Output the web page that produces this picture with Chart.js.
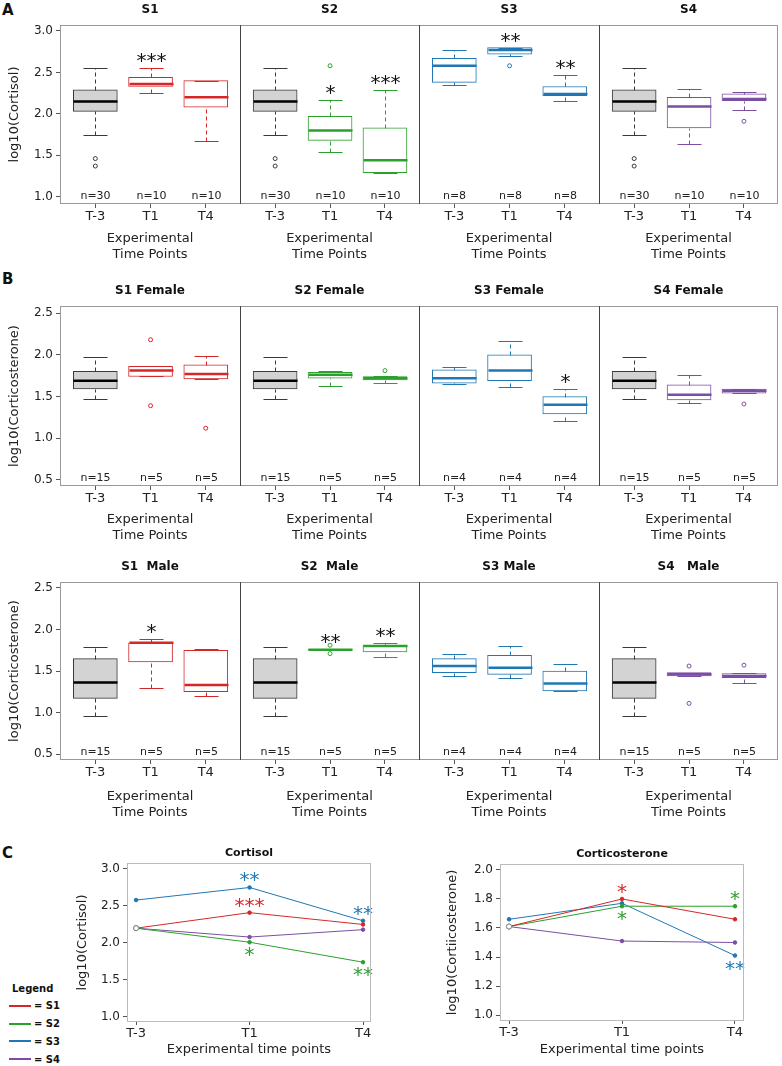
<!DOCTYPE html>
<html>
<head>
<meta charset="utf-8">
<title>Cortisol and corticosterone by time point</title>
<script src="https://cdn.jsdelivr.net/npm/chart.js@4.4.1/dist/chart.umd.min.js"></script>
<style>
  html, body { margin: 0; padding: 0; background: #fff; }
  body { position: relative; width: 782px; height: 1066px; overflow: hidden; font-family: "DejaVu Sans", sans-serif; color: #111; }
  canvas { position: absolute; }
  .tag { position: absolute; font-weight: bold; font-size: 15px; line-height: 15px; }
  #legend { position: absolute; left: 0; top: 0; font-size: 10px; font-weight: bold; }
</style>
</head>
<body>
<div class="tag" style="left:2px;top:3px">A</div>
<div class="tag" style="left:2px;top:272px">B</div>
<div class="tag" style="left:2px;top:846px">C</div>
<div id="legend"></div>
<script>
const timePoints = ['T-3', 'T1', 'T4'];
const groups = ['S1', 'S2', 'S3', 'S4'];
const groupColors = ['#d62728', '#2ca02c', '#1f77b4', '#7b4ea3'];

// box stats per time point: [low whisker, Q1, median, Q3, high whisker]
// A - cortisol
const cortisolControl = [1.75, 2.03, 2.15, 2.29, 2.55];
const cortisolControlOut = [1.46, 1.37];
const cortisolS1 = [cortisolControl, [2.25, 2.33, 2.36, 2.44, 2.55], [1.67, 2.08, 2.20, 2.40, 2.40]];
const cortisolS2 = [cortisolControl, [1.54, 1.68, 1.80, 1.97, 2.17], [1.29, 1.29, 1.44, 1.83, 2.29]];
const cortisolS3 = [[2.35, 2.38, 2.58, 2.67, 2.77], [2.70, 2.72, 2.77, 2.80, 2.80], [2.16, 2.22, 2.24, 2.33, 2.47]];
const cortisolS4 = [cortisolControl, [1.64, 1.83, 2.09, 2.20, 2.30], [2.05, 2.16, 2.18, 2.24, 2.26]];
const cortisolOut = [[cortisolControlOut, [], []], [cortisolControlOut, [2.58], []], [[], [2.58], []], [cortisolControlOut, [], [1.91]]];
const cortisolN = [[30, 10, 10], [30, 10, 10], [8, 8, 8], [30, 10, 10]];
const cortisolStars = [['', '***', ''], ['', '*', '***'], ['', '**', '**'], ['', '', '']];

// B - corticosterone, females
const femaleControl = [1.47, 1.59, 1.69, 1.80, 1.97];
const femaleS1 = [femaleControl, [1.74, 1.74, 1.81, 1.86, 1.86], [1.71, 1.71, 1.77, 1.88, 1.99]];
const femaleS2 = [femaleControl, [1.62, 1.72, 1.76, 1.79, 1.80], [1.66, 1.70, 1.72, 1.74, 1.74]];
const femaleS3 = [[1.65, 1.66, 1.72, 1.82, 1.85], [1.61, 1.69, 1.81, 2.00, 2.16], [1.21, 1.29, 1.40, 1.50, 1.59]];
const femaleS4 = [femaleControl, [1.42, 1.46, 1.52, 1.64, 1.76], [1.54, 1.54, 1.57, 1.59, 1.59]];
const femaleOut = [[[], [2.18, 1.39], [1.12]], [[], [], [1.81]], [[], [], []], [[], [], [1.41]]];
const femaleN = [[15, 5, 5], [15, 5, 5], [4, 4, 4], [15, 5, 5]];
const femaleStars = [['', '', ''], ['', '', ''], ['', '', '*'], ['', '', '']];

// B - corticosterone, males
const maleControl = [0.96, 1.17, 1.36, 1.65, 1.79];
const maleS1 = [maleControl, [1.29, 1.61, 1.84, 1.84, 1.89], [1.20, 1.25, 1.33, 1.75, 1.76]];
const maleS2 = [maleControl, [1.75, 1.75, 1.755, 1.76, 1.76], [1.67, 1.73, 1.80, 1.81, 1.84]];
const maleS3 = [[1.44, 1.48, 1.56, 1.65, 1.70], [1.42, 1.46, 1.54, 1.69, 1.80], [1.26, 1.26, 1.35, 1.50, 1.58]];
const maleS4 = [maleControl, [1.44, 1.44, 1.46, 1.48, 1.48], [1.36, 1.42, 1.44, 1.47, 1.47]];
const maleOut = [[[], [], []], [[], [1.81, 1.71], []], [[], [], []], [[], [1.56, 1.11], [1.57]]];
const maleN = [[15, 5, 5], [15, 5, 5], [4, 4, 4], [15, 5, 5]];
const maleStars = [['', '*', ''], ['', '**', '**'], ['', '', ''], ['', '', '']];

// C - trend lines (S1..S4 over T-3, T1, T4)
const cortisolTrend = [[2.20, 2.41, 2.25], [2.20, 2.01, 1.74], [2.58, 2.75, 2.30], [2.20, 2.08, 2.18]];
const cortisolTrendStars = [['', '***', ''], ['', '*', '**'], ['', '**', '**'], ['', '', '']];
const corticoTrend = [[1.61, 1.80, 1.66], [1.61, 1.75, 1.75], [1.66, 1.77, 1.41], [1.61, 1.51, 1.50]];
const corticoTrendStars = [['', '*', ''], ['', '*', '*'], ['', '', '**'], ['', '', '']];

Chart.defaults.font.family = '"DejaVu Sans", sans-serif';
Chart.defaults.color = '#222';
Chart.defaults.animation = false;
Chart.defaults.events = [];

const subLeft = [0, 240, 419, 599];
const subWidth = [240, 179, 180, 180];

function addCanvas(left, top, w, h) {
  const c = document.createElement('canvas');
  c.width = w; c.height = h;
  c.style.left = left + 'px'; c.style.top = top + 'px';
  c.style.width = w + 'px'; c.style.height = h + 'px';
  document.body.appendChild(c);
  return c;
}

function hline(ctx, x1, x2, y) { ctx.beginPath(); ctx.moveTo(x1, y); ctx.lineTo(x2, y); ctx.stroke(); }
function vline(ctx, x, y1, y2) { ctx.beginPath(); ctx.moveTo(x, y1); ctx.lineTo(x, y2); ctx.stroke(); }

// asterisks centred on (x, y)
function stars(ctx, text, x, y, color) {
  ctx.fillStyle = color;
  ctx.font = '20px "DejaVu Sans"';
  ctx.textAlign = 'center';
  ctx.textBaseline = 'alphabetic';
  ctx.fillText(text, x, y + 9);
}

function boxPanel(p) {
  const first = p.col === 0, last = p.col === 3;
  const canvas = addCanvas(subLeft[p.col], p.top, subWidth[p.col], p.height);
  const isCtrl = p.stats.map(s => s === p.control);
  const edge = isCtrl.map(c => c ? '#3a3a3a' : p.color);
  const outPts = [], outCol = [];
  p.outliers.forEach((list, i) => list.forEach(v => { outPts.push({x: i, y: v}); outCol.push(edge[i]); }));

  const decor = {
    id: 'boxDecor',
    afterDatasetsDraw(chart) {
      const {ctx, chartArea: a, scales: {x, y}} = chart;
      const py = v => Math.round(y.getPixelForValue(v)) + 0.5;
      ctx.save();
      p.stats.forEach((s, i) => {
        const cx = Math.round(x.getPixelForValue(i)) + 0.5;
        ctx.strokeStyle = edge[i];
        ctx.lineWidth = 1;
        ctx.setLineDash([4, 3]);
        vline(ctx, cx, py(s[0]), py(s[1]));
        vline(ctx, cx, py(s[3]), py(s[4]));
        ctx.setLineDash([]);
        hline(ctx, cx - 12, cx + 12, py(s[0]));
        hline(ctx, cx - 12, cx + 12, py(s[4]));
        ctx.strokeStyle = isCtrl[i] ? '#000' : p.color;
        ctx.lineWidth = 2.5;
        hline(ctx, cx - 22, cx + 22, y.getPixelForValue(s[2]));

        ctx.fillStyle = '#222';
        ctx.font = '11px "DejaVu Sans"';
        ctx.textAlign = 'center';
        ctx.textBaseline = 'middle';
        ctx.fillText('n=' + p.counts[i], cx, a.bottom - 8);
        if (p.stars[i]) stars(ctx, p.stars[i], cx, y.getPixelForValue(s[4]) - 10, '#111');
      });
      // frame: light outside, darker between panels
      ctx.lineWidth = 1;
      ctx.strokeStyle = '#999';
      hline(ctx, a.left, a.right, a.top + 0.5);
      hline(ctx, a.left, a.right, a.bottom - 0.5);
      if (last) vline(ctx, a.right - 0.5, a.top, a.bottom);
      ctx.strokeStyle = first ? '#999' : '#444';
      vline(ctx, a.left + 0.5, a.top, a.bottom);

      ctx.fillStyle = '#111';
      ctx.font = 'bold 12px "DejaVu Sans"';
      ctx.textAlign = 'center';
      ctx.textBaseline = 'middle';
      ctx.fillText(p.title, (a.left + a.right) / 2, a.top - 15);
      ctx.restore();
    }
  };

  new Chart(canvas, {
    type: 'bar',
    data: {
      datasets: [
        {
          data: p.stats.map((s, i) => ({x: i, y: [s[1], s[3]]})),
          backgroundColor: isCtrl.map(c => c ? '#d3d3d3' : '#fff'),
          borderColor: edge,
          borderWidth: 1,
          borderSkipped: false,
          barThickness: 44
        },
        {
          type: 'scatter',
          data: outPts,
          pointRadius: 2,
          pointBorderWidth: 1,
          pointBorderColor: outCol,
          pointBackgroundColor: '#fff'
        }
      ]
    },
    options: {
      responsive: false,
      layout: { autoPadding: false, padding: { top: 25, right: last ? 1 : 0, left: 0, bottom: 0 } },
      plugins: { legend: { display: false }, tooltip: { enabled: false } },
      scales: {
        x: {
          type: 'linear', min: -0.64, max: 2.62, offset: false,
          afterBuildTicks: s => { s.ticks = timePoints.map((t, i) => ({value: i})); },
          ticks: { callback: v => timePoints[v], font: {size: 13}, padding: 1, maxRotation: 0, autoSkip: false },
          grid: { offset: false, drawOnChartArea: false, tickLength: 4, color: '#555' },
          border: { display: false },
          title: { display: true, text: ['Experimental', 'Time Points'], font: {size: 13}, padding: 0, color: '#222' },
          afterFit: s => { s.height = p.axisH; s.paddingLeft = 0; s.paddingRight = 0; }
        },
        y: {
          min: p.yMin, max: p.yMax, display: first,
          afterBuildTicks: s => { s.ticks = p.yTicks.map(v => ({value: v})); },
          ticks: { callback: v => v.toFixed(1), font: {size: 12}, padding: 3 },
          grid: { drawOnChartArea: false, tickLength: 4, color: '#555' },
          border: { display: false },
          title: { display: true, text: p.yTitle, font: {size: 13}, padding: {top: 7, bottom: 0}, color: '#222' },
          afterFit: s => { if (first) s.width = 60; }
        }
      }
    },
    plugins: [decor]
  });
}

function boxRow(row) {
  groups.forEach((g, k) => boxPanel({
    col: k, top: row.top, height: row.height, axisH: row.axisH,
    yMin: row.yMin, yMax: row.yMax, yTicks: row.yTicks, yTitle: row.yTitle,
    title: row.titles[k], stats: row.stats[k], outliers: row.outliers[k],
    counts: row.counts[k], stars: row.stars[k], control: row.control, color: groupColors[k]
  }));
}

boxRow({
  top: 0, height: 262, axisH: 58, yMin: 0.912, yMax: 3.072, yTicks: [1, 1.5, 2, 2.5, 3],
  yTitle: 'log10(Cortisol)', titles: ['S1', 'S2', 'S3', 'S4'],
  stats: [cortisolS1, cortisolS2, cortisolS3, cortisolS4], outliers: cortisolOut,
  counts: cortisolN, stars: cortisolStars, control: cortisolControl
});
boxRow({
  top: 281, height: 262, axisH: 57, yMin: 0.428, yMax: 2.584, yTicks: [0.5, 1, 1.5, 2, 2.5],
  yTitle: 'log10(Corticosterone)', titles: ['S1 Female', 'S2 Female', 'S3 Female', 'S4 Female'],
  stats: [femaleS1, femaleS2, femaleS3, femaleS4], outliers: femaleOut,
  counts: femaleN, stars: femaleStars, control: femaleControl
});
boxRow({
  top: 557, height: 263, axisH: 60, yMin: 0.428, yMax: 2.572, yTicks: [0.5, 1, 1.5, 2, 2.5],
  yTitle: 'log10(Corticosterone)', titles: ['S1  Male', 'S2  Male', 'S3 Male', 'S4   Male'],
  stats: [maleS1, maleS2, maleS3, maleS4], outliers: maleOut,
  counts: maleN, stars: maleStars, control: maleControl
});

function trendChart(t) {
  const canvas = addCanvas(t.left, t.top, t.width, t.height);
  const shared = k => t.values[k][0] === t.values[0][0];
  const datasets = groups.map((g, k) => ({
    label: g,
    data: t.values[k].map((v, i) => ({x: i, y: v})),
    borderColor: groupColors[k],
    backgroundColor: groupColors[k],
    borderWidth: 1,
    tension: 0,
    pointRadius: c => (c.dataIndex === 0 && shared(k)) ? 2.5 : 1.8,
    pointBorderWidth: 1,
    pointBackgroundColor: c => (c.dataIndex === 0 && shared(k)) ? '#fff' : groupColors[k],
    pointBorderColor: c => (c.dataIndex === 0 && shared(k)) ? '#888' : groupColors[k]
  }));

  const decor = {
    id: 'trendDecor',
    afterDatasetsDraw(chart) {
      const {ctx, chartArea: a, scales: {x, y}} = chart;
      ctx.save();
      t.stars.forEach((row, k) => row.forEach((s, i) => {
        if (!s) return;
        const dy = t.below[k][i] ? 10 : -10;
        stars(ctx, s, x.getPixelForValue(i), y.getPixelForValue(t.values[k][i]) + dy, groupColors[k]);
      }));
      ctx.lineWidth = 1;
      ctx.strokeStyle = '#bbb';
      ctx.strokeRect(a.left + 0.5, a.top + 0.5, a.right - a.left - 1, a.bottom - a.top - 1);
      ctx.fillStyle = '#111';
      ctx.font = 'bold 11px "DejaVu Sans"';
      ctx.textAlign = 'center';
      ctx.textBaseline = 'middle';
      ctx.fillText(t.title, (a.left + a.right) / 2, a.top - 10);
      ctx.restore();
    }
  };

  new Chart(canvas, {
    type: 'line',
    data: { datasets },
    options: {
      responsive: false,
      layout: { autoPadding: false, padding: { top: 20, right: t.padRight, left: 0, bottom: 0 } },
      plugins: { legend: { display: false }, tooltip: { enabled: false } },
      scales: {
        x: {
          type: 'linear', min: -0.08, max: t.xMax,
          afterBuildTicks: s => { s.ticks = timePoints.map((p, i) => ({value: i})); },
          ticks: { callback: v => timePoints[v], font: {size: 13}, padding: 1, maxRotation: 0, autoSkip: false },
          grid: { drawOnChartArea: false, tickLength: 3, color: '#555' },
          border: { display: false },
          title: { display: true, text: 'Experimental time points', font: {size: 13}, padding: 0, color: '#222' },
          afterFit: s => { s.height = t.axisH; s.paddingLeft = 0; s.paddingRight = 0; }
        },
        y: {
          min: t.yMin, max: t.yMax,
          afterBuildTicks: s => { s.ticks = t.yTicks.map(v => ({value: v})); },
          ticks: { callback: v => v.toFixed(1), font: {size: 12}, padding: 3 },
          grid: { drawOnChartArea: false, tickLength: 4, color: '#555' },
          border: { display: false },
          title: { display: true, text: t.yTitle, font: {size: 13}, padding: {top: 5, bottom: 0}, color: '#222' },
          afterFit: s => { s.width = t.yAxisW; }
        }
      }
    },
    plugins: [decor]
  });
}

trendChart({
  left: 70, top: 843, width: 310, height: 214, padRight: 9, yAxisW: 57, axisH: 35,
  xMax: 2.07, yMin: 0.932, yMax: 3.081, yTicks: [1, 1.5, 2, 2.5, 3],
  title: 'Cortisol', yTitle: 'log10(Cortisol)',
  values: cortisolTrend, stars: cortisolTrendStars,
  below: [[0, 0, 0], [0, 1, 1], [0, 0, 0], [0, 0, 0]]
});
trendChart({
  left: 440, top: 844, width: 312, height: 213, padRight: 8, yAxisW: 60, axisH: 36,
  xMax: 2.08, yMin: 0.959, yMax: 2.041, yTicks: [1, 1.2, 1.4, 1.6, 1.8, 2],
  title: 'Corticosterone', yTitle: 'log10(Cortiicosterone)',
  values: corticoTrend, stars: corticoTrendStars,
  below: [[0, 0, 0], [0, 1, 0], [0, 0, 1], [0, 0, 0]]
});

// legend for panel C
const legend = document.getElementById('legend');
let html = '<div style="position:absolute;left:12px;top:983px;white-space:nowrap">Legend</div>';
groups.forEach((g, k) => {
  const cy = 1006 + k * 17.7;
  html += `<div style="position:absolute;left:9px;top:${cy - 1}px;width:22px;height:2px;background:${groupColors[k]}"></div>`;
  html += `<div style="position:absolute;left:34px;top:${cy - 5.6}px;white-space:nowrap">= ${g}</div>`;
});
legend.innerHTML = html;
</script>
</body>
</html>
